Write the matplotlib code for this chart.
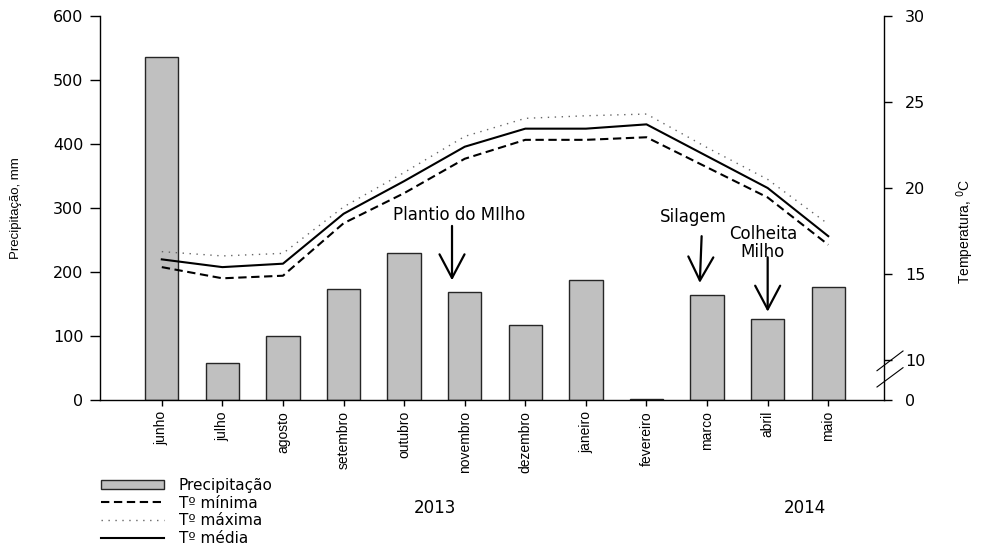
import matplotlib.pyplot as plt
import numpy as np

plt.rcParams['font.family'] = ['DejaVu Sans']

meses = ["junho", "julho", "agosto", "setembro", "outubro", "novembro",
         "dezembro", "janeiro", "fevereiro", "marco", "abril", "maio"]
precip = [536, 58, 100, 174, 229, 169, 117, 188, 2, 164, 126, 177]
t_min = [15.4, 14.75, 14.9, 17.95, 19.7, 21.7, 22.8, 22.8, 22.95, 21.2, 19.45, 16.7]
t_max = [16.3, 16.05, 16.2, 18.9, 20.9, 23.0, 24.05, 24.2, 24.3, 22.35, 20.5, 17.9]
t_med = [15.85, 15.4, 15.6, 18.5, 20.4, 22.4, 23.45, 23.45, 23.7, 21.85, 20.0, 17.2]
prec_ticks = [0, 100, 200, 300, 400, 500, 600]
temp_ticks = [10, 15, 20, 25, 30]

# fraction of axis height used by the 0-10 break
frac_quebra = 40 / 384
t_base = 10 - frac_quebra * (30 - 10) / (1 - frac_quebra)

ROT = 'Liberation Sans'


def main():
    fig = plt.figure(figsize=(9.82, 5.44), dpi=100)
    ax = fig.add_axes([100 / 982, 144 / 544, 784 / 982, 384 / 544])
    ax2 = ax.twinx()

    x = np.arange(len(meses))
    barras = ax.bar(x, precip, width=0.55, color='#c0c0c0', edgecolor='0.15',
                    linewidth=1.0, label='Precipitação')
    l_min, = ax2.plot(x, t_min, color='black', lw=1.5, dashes=(4, 2.2),
                      label='T\u00ba mínima')
    l_max, = ax2.plot(x, t_max, color='0.4', lw=1.0, linestyle=(0, (1, 4)),
                      label='T\u00ba máxima')
    l_med, = ax2.plot(x, t_med, color='black', lw=1.5, label='T\u00ba média')

    ax.set_xlim(-1.02, 11.92)
    ax.set_ylim(0, 600)
    ax.set_yticks(prec_ticks)
    ax2.set_ylim(t_base, 30)
    ax2.set_yticks([t_base] + temp_ticks)
    ax2.set_yticklabels(['0'] + [str(t) for t in temp_ticks])

    ax.set_xticks(x)
    ax.set_xticklabels(meses, rotation=90, fontsize=10, family=ROT)

    for a in (ax, ax2):
        a.spines['top'].set_visible(False)
        for s in a.spines.values():
            s.set_linewidth(1.0)
    ax.spines['right'].set_visible(False)
    ax2.spines['left'].set_visible(False)
    ax2.spines['bottom'].set_visible(False)

    ax.tick_params(axis='y', direction='out', length=7, width=1, pad=5, labelsize=11.5)
    ax.tick_params(axis='x', direction='out', length=4, width=1, pad=4)
    ax2.tick_params(axis='y', direction='out', length=6, width=1, pad=9, labelsize=11.5)

    ax.set_ylabel('Precipitação, mm', fontsize=9.5, family=ROT)
    ax.yaxis.set_label_coords(-78 / 784, 0.5)
    ax2.set_ylabel('Temperatura, $^{0}$C', fontsize=10, family=ROT)
    ax2.yaxis.set_label_coords(1 + 70 / 784, 0.44)

    # axis break on the right
    for y0, y1 in ((370.7, 351.0), (387.0, 367.7)):
        ax2.plot([(877 - 100) / 784, (903 - 100) / 784],
                 [(400 - y0) / 384, (400 - y1) / 384],
                 transform=ax2.transAxes, color='black', lw=0.8, clip_on=False)

    seta = dict(arrowstyle='->, head_length=0.85, head_width=0.45',
                lw=1.6, color='black', mutation_scale=20, shrinkA=0, shrinkB=0)
    ax.text(4.9, 289, 'Plantio do MIlho', ha='center', va='center', fontsize=12)
    ax.annotate('', xy=(4.79, 187), xytext=(4.79, 272), arrowprops=seta)
    ax.text(8.78, 286, 'Silagem', ha='center', va='center', fontsize=12)
    ax.annotate('', xy=(8.88, 183), xytext=(8.91, 256), arrowprops=seta)
    ax.text(9.92, 245, 'Colheita\nMilho', ha='center', va='center', fontsize=12,
            linespacing=1.0)
    ax.annotate('', xy=(10.0, 138), xytext=(10.0, 223), arrowprops=seta)

    fig.legend([barras, l_min, l_max, l_med],
               [barras.get_label(), l_min.get_label(), l_max.get_label(), l_med.get_label()],
               loc='upper left', bbox_to_anchor=(101 / 982, 1 - 478 / 544),
               frameon=False, fontsize=11, handlelength=4.1, handleheight=0.6,
               handletextpad=1.0, labelspacing=0.17, borderpad=0, borderaxespad=0)

    fig.text(435 / 982, 1 - 508 / 544, '2013', ha='center', va='center', fontsize=12)
    fig.text(805 / 982, 1 - 508 / 544, '2014', ha='center', va='center', fontsize=12)

    fig.savefig('out.png', dpi=100)


if __name__ == "__main__":
    main()
